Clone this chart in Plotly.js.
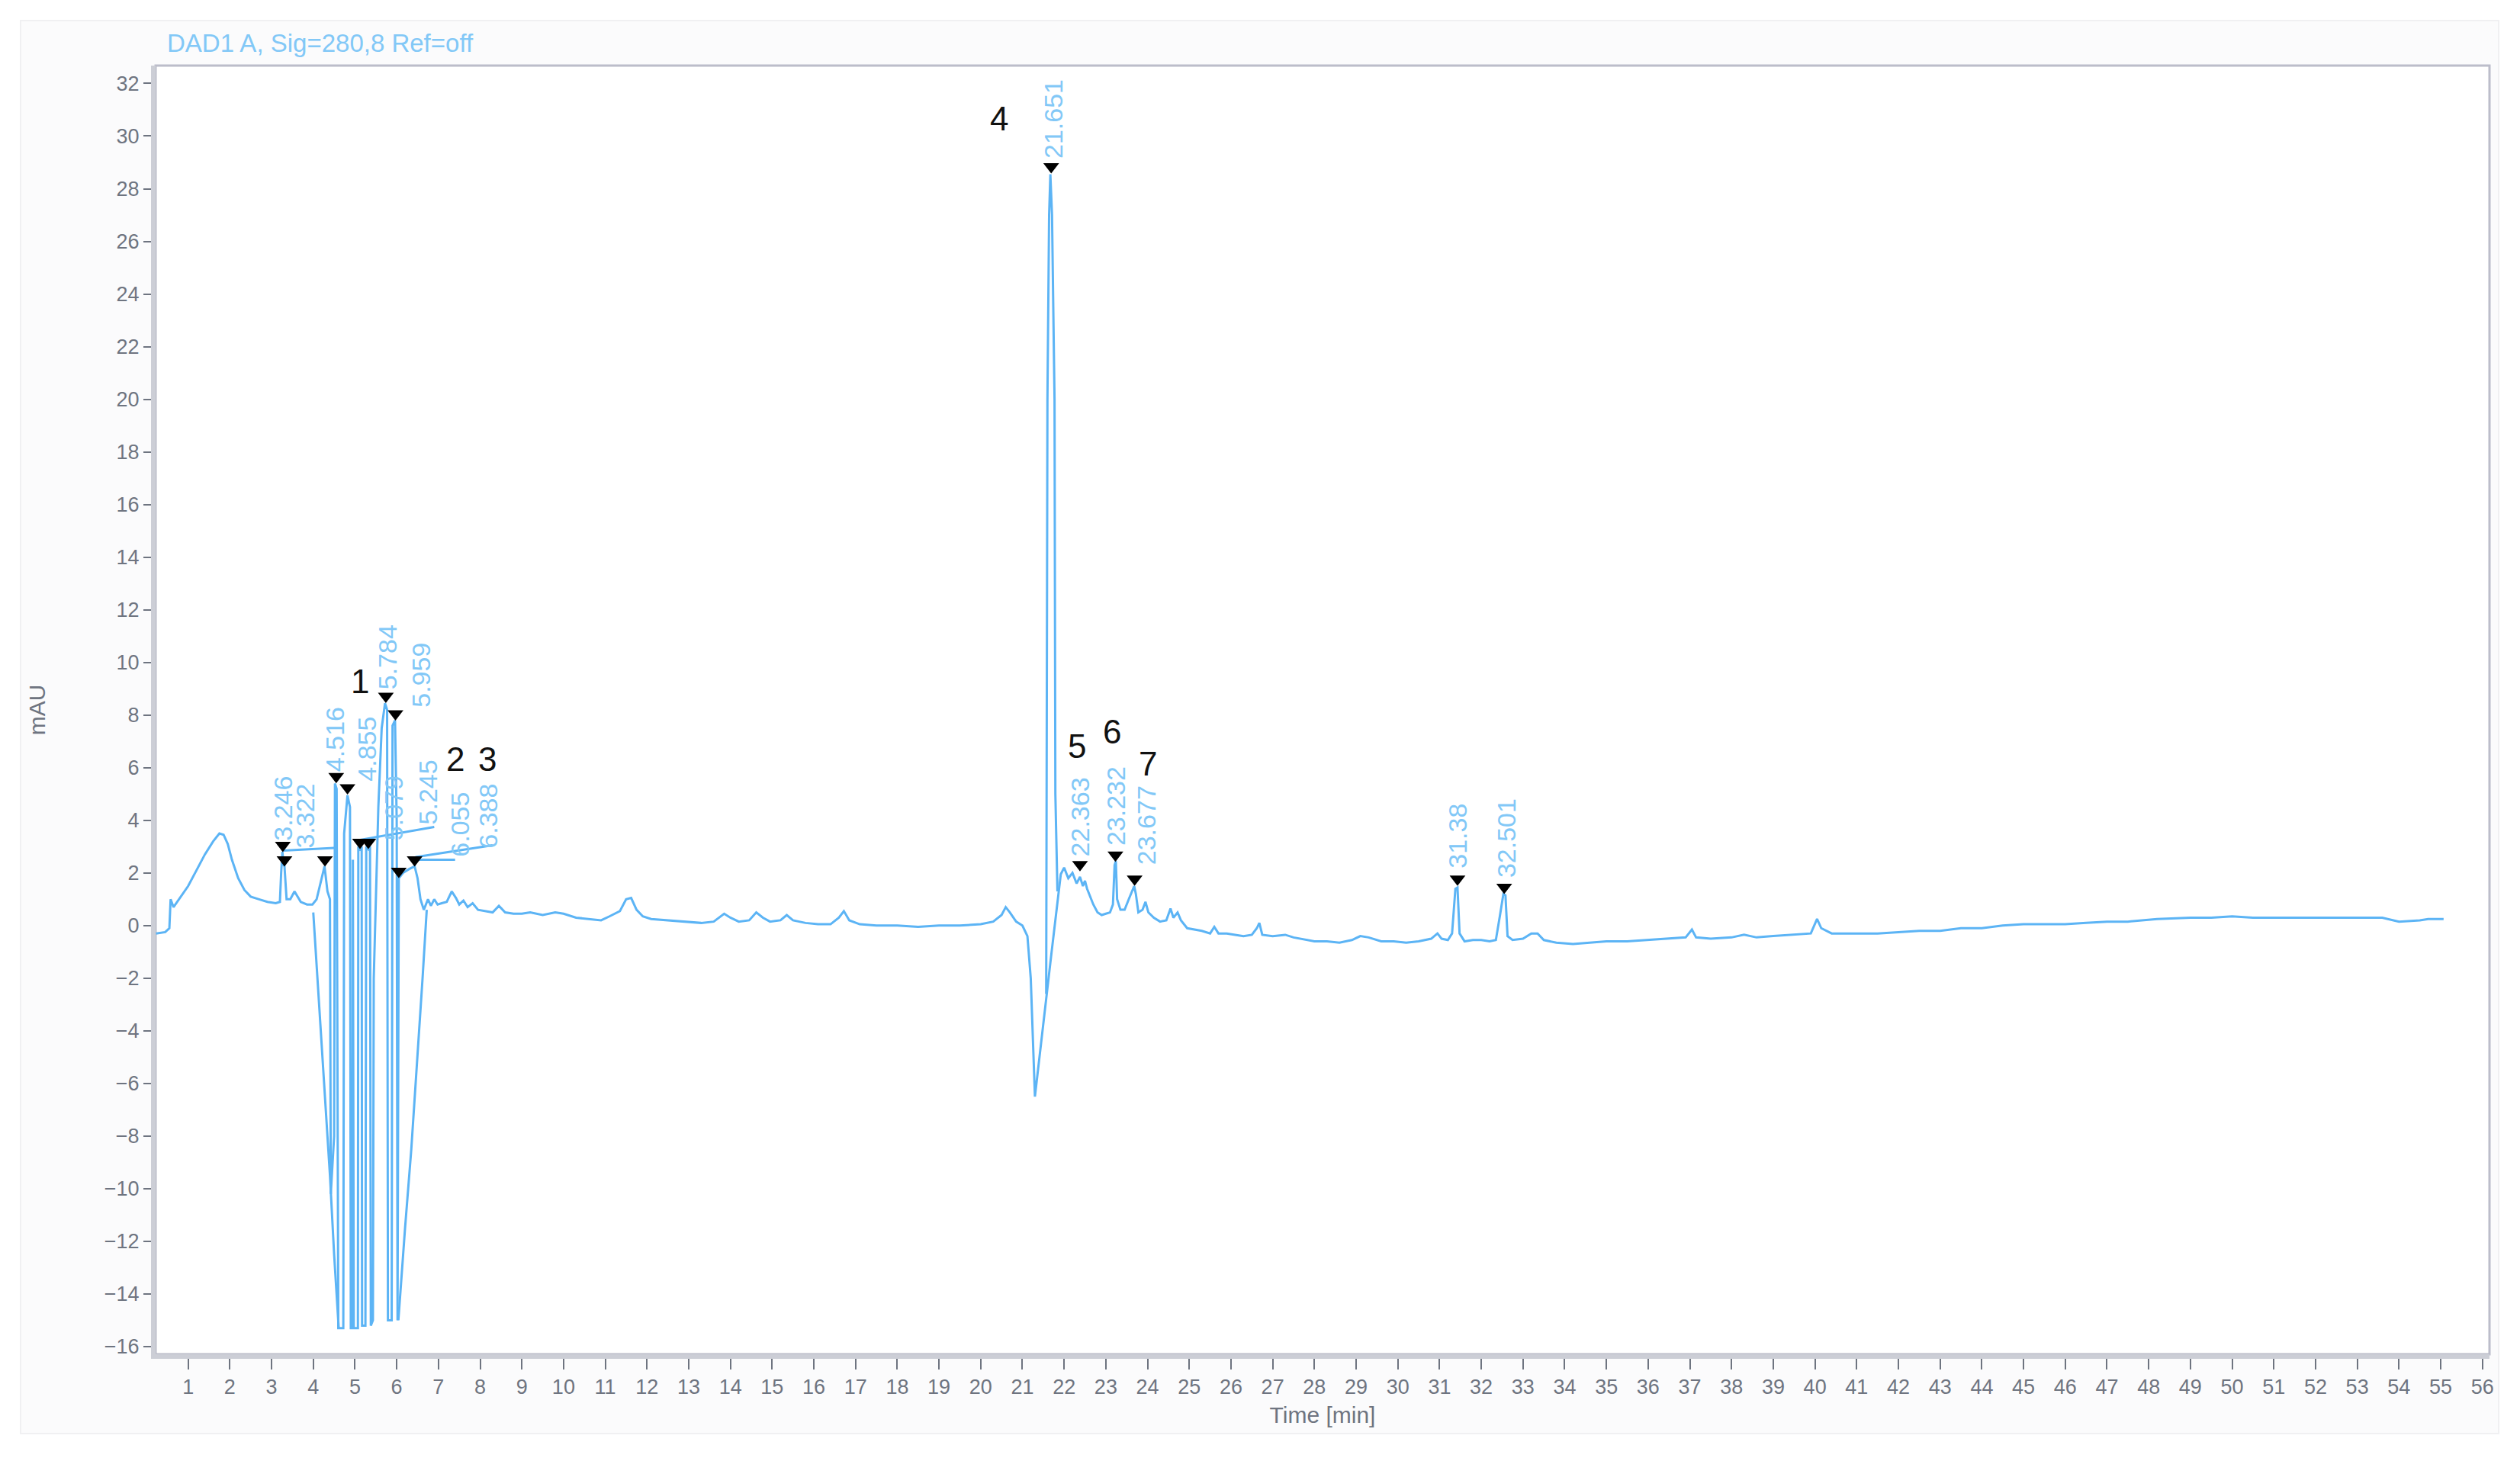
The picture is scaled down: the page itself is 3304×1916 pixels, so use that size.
<!DOCTYPE html>
<html>
<head>
<meta charset="utf-8">
<script src="https://cdn.plot.ly/plotly-3.0.1.min.js"></script>
<style>
  html, body { margin: 0; padding: 0; background: #ffffff; }
  #chart { width: 3304px; height: 1916px; }
</style>
</head>
<body>
<div id="chart"></div>
<script>
// chromatogram signal (time in min, signal in mAU), null = pen lifted
const time = [
  0.23, 0.45, 0.55, 0.58, 0.65, 0.8, 1.0, 1.2, 1.4, 1.6, 1.75, 1.85, 1.95, 2.05, 2.2, 2.35, 2.5, 2.7, 2.9, 3.1,
  3.2, 3.23, 3.26, 3.29, 3.31, 3.36, 3.45, 3.55, 3.62, 3.7, 3.85, 3.98, 4.08, 4.18, 4.27, 4.34, 4.40,
  4.42, 4.50, 4.52, 4.56, 4.60, 4.62, 4.72, 4.74, 4.82, 4.88, 4.90, 4.94, 4.95, 4.97, 5.07, 5.08, 5.12, 5.16,
  5.17, 5.25, 5.27, 5.32, 5.36, 5.38, 5.43, 5.45, 5.5, 5.56, 5.64, 5.72, 5.77, 5.79, 5.88, 5.90, 5.96, 6.0,
  6.02, 6.05, 6.15, 6.3, 6.43, 6.5, 6.57, 6.65, 6.75, 6.82, 6.9, 6.98, 7.08, 7.2, 7.32, 7.42, 7.5, 7.6, 7.7,
  7.82, 7.95, 8.1, 8.3, 8.45, 8.6, 8.8, 9.0, 9.2, 9.5, 9.8, 10.0, 10.3, 10.6, 10.9, 11.1, 11.35, 11.5, 11.62,
  11.75, 11.9, 12.1, 12.5, 12.9, 13.3, 13.6, 13.85, 14.0, 14.2, 14.45, 14.62, 14.78, 14.95, 15.2, 15.35, 15.5,
  15.8, 16.1, 16.4, 16.6, 16.72, 16.85, 17.1, 17.5, 18.0, 18.5, 19.0, 19.5, 20.0, 20.3, 20.5, 20.6, 20.7,
  20.85, 21.0, 21.12, 21.2, 21.3, 21.5, 21.7, 21.92, 22.0, 22.1, 22.2, 22.3, 22.38, 22.45, 22.5, 22.55, 22.62,
  22.7, 22.8, 22.9, 23.0, 23.1, 23.17, 23.21, 23.24, 23.27, 23.35, 23.45, 23.55, 23.62, 23.68, 23.72, 23.78,
  23.88, 23.95, 24.02, 24.15, 24.3, 24.45, 24.55, 24.62, 24.72, 24.8, 24.95, 25.1, 25.3, 25.5, 25.6, 25.7,
  25.9, 26.1, 26.3, 26.5, 26.62, 26.68, 26.75, 27.0, 27.3, 27.5, 27.8, 28.0, 28.3, 28.6, 28.9, 29.1, 29.3,
  29.6, 29.9, 30.2, 30.5, 30.8, 30.95, 31.05, 31.2, 31.3, 31.38, 31.43, 31.48, 31.6, 31.8, 32.0, 32.2, 32.35,
  32.45, 32.53, 32.58, 32.63, 32.75, 33.0, 33.2, 33.35, 33.5, 33.8, 34.2, 34.6, 35.0, 35.5, 36.0, 36.5, 36.9,
  37.05, 37.15, 37.5, 38.0, 38.3, 38.6, 39.0, 39.5, 39.9, 40.05, 40.15, 40.4, 41.0, 41.5, 42.0, 42.5, 43.0,
  43.5, 44.0, 44.5, 45.0, 45.5, 46.0, 46.5, 47.0, 47.5, 48.2, 49.0, 49.5, 50.0, 50.5, 51.0, 52.0, 53.0, 53.6,
  54.0, 54.5, 54.7, 55.07,
  null, 4.0, 4.1, 4.2, 4.3, 4.4, 4.5, 4.61,
  null, 6.04, 6.1, 6.2, 6.35, 6.5, 6.62, 6.72,
  null, 21.57, 21.6, 21.64, 21.67, 21.71, 21.77, 21.79, 21.84
];
const signal = [
  -0.3, -0.25, -0.1, 1.0, 0.7, 1.05, 1.5, 2.1, 2.7, 3.2, 3.5, 3.45, 3.1, 2.5, 1.8, 1.35, 1.1, 1.0, 0.9, 0.85,
  0.9, 2.0, 2.8, 2.3, 2.25, 1.0, 1.0, 1.3, 1.1, 0.9, 0.8, 0.8, 1.0, 1.7, 2.25, 1.3, 1.0,
  -10.2, -8.0, 5.4, 5.2, -15.3, -15.3, -15.3, 3.5, 4.95, 4.5, -15.3, -15.3, 2.5, -15.3, -15.3, 3.0, 2.9, 3.0,
  -15.2, -15.2, 3.0, 2.9, 3.0, -15.2, -15.0, -2.0, 1.0, 4.5, 7.5, 8.45, 8.2, -15.0, -15.0, 7.6, 7.8, 4.0,
  -15.0, 1.8, 2.0, 2.15, 2.25, 1.8, 1.0, 0.6, 1.0, 0.75, 1.0, 0.8, 0.85, 0.9, 1.3, 1.05, 0.8, 0.95, 0.7,
  0.85, 0.6, 0.55, 0.5, 0.75, 0.5, 0.45, 0.45, 0.5, 0.4, 0.5, 0.45, 0.3, 0.25, 0.2, 0.35, 0.55, 1.0, 1.05,
  0.6, 0.35, 0.25, 0.2, 0.15, 0.1, 0.15, 0.45, 0.3, 0.15, 0.2, 0.5, 0.3, 0.15, 0.2, 0.4, 0.2,
  0.1, 0.05, 0.05, 0.3, 0.55, 0.2, 0.05, 0.0, 0.0, -0.05, 0.0, 0.0, 0.05, 0.15, 0.4, 0.7, 0.5,
  0.15, 0.0, -0.4, -2.0, -6.5, -3.7, -1.0, 1.95, 2.2, 1.8, 2.0, 1.6, 1.85, 1.5, 1.7, 1.4, 1.1,
  0.8, 0.5, 0.4, 0.45, 0.5, 0.8, 2.3, 2.45, 1.0, 0.6, 0.6, 1.0, 1.3, 1.5, 1.2, 0.5,
  0.6, 0.9, 0.5, 0.3, 0.15, 0.2, 0.65, 0.3, 0.5, 0.2, -0.1, -0.15, -0.2, -0.3, -0.05, -0.3,
  -0.3, -0.35, -0.4, -0.35, -0.1, 0.1, -0.35, -0.4, -0.35, -0.45, -0.55, -0.6, -0.6, -0.65, -0.55, -0.4, -0.45,
  -0.6, -0.6, -0.65, -0.6, -0.5, -0.3, -0.5, -0.55, -0.3, 1.4, 1.45, -0.3, -0.6, -0.55, -0.55, -0.6, -0.55,
  0.4, 1.2, 1.15, -0.4, -0.55, -0.5, -0.3, -0.3, -0.55, -0.65, -0.7, -0.65, -0.6, -0.6, -0.55, -0.5, -0.45,
  -0.15, -0.45, -0.5, -0.45, -0.35, -0.45, -0.4, -0.35, -0.3, 0.25, -0.1, -0.3, -0.3, -0.3, -0.25, -0.2, -0.2,
  -0.1, -0.1, 0.0, 0.05, 0.05, 0.05, 0.1, 0.15, 0.15, 0.25, 0.3, 0.3, 0.35, 0.3, 0.3, 0.3, 0.3, 0.3,
  0.15, 0.2, 0.25, 0.25,
  null, 0.5, -2.0, -4.5, -7.0, -9.5, -12.5, -15.3,
  null, -15.0, -13.6, -11.5, -8.5, -5.0, -2.0, 0.6,
  null, -2.6, 20.0, 27.0, 28.55, 27.0, 20.0, 5.0, 1.3
];

// integration baselines drawn by the software
const baseTime = [3.28, 4.5, null, 5.1, 6.9, null, 6.43, 7.4, null, 6.45, 8.3];
const baseSignal = [2.85, 2.95, null, 3.25, 3.75, null, 2.5, 2.5, null, 2.6, 3.05];

// peak markers (black triangles)
const markerTime = [3.27, 3.31, 4.28, 4.55, 4.82, 5.12, 5.32, 5.74, 5.97, 6.05, 6.43, 21.69, 22.38, 23.23, 23.69, 31.43, 32.55];
const markerSignal = [3.05, 2.5, 2.5, 5.67, 5.24, 3.17, 3.17, 8.72, 8.05, 2.07, 2.5, 28.84, 2.32, 2.68, 1.77, 1.77, 1.46];

// retention time labels and where they sit
const rtLabels = ['3.246', '3.322', '4.516', '4.855', '5.079', '5.784', '5.959', '5.245', '6.055', '6.388',
  '21.651', '22.363', '23.232', '23.677', '31.38', '32.501'];
const rtLabelTime = [3.27, 3.81, 4.51, 5.28, 5.93, 5.78, 6.59, 6.74, 7.51, 8.2, 21.73, 22.38, 23.23, 23.96, 31.43, 32.59];
const rtLabelSignal = [3.17, 2.87, 5.79, 5.43, 3.17, 8.9, 8.23, 3.78, 2.56, 2.87, 29.1, 2.56, 2.99, 2.26, 2.13, 1.77];

// compound numbers
const compoundNames = ['1', '2', '3', '4', '5', '6', '7'];
const compoundTime = [5.12, 7.4, 8.17, 20.45, 22.3, 23.15, 24.0];
const compoundSignal = [9.27, 6.34, 6.34, 30.67, 6.83, 7.38, 6.16];

// tick values
const yTicks = [-16, -14, -12, -10, -8, -6, -4, -2, 0, 2, 4, 6, 8, 10, 12, 14, 16, 18, 20, 22, 24, 26, 28, 30, 32];


//---------------------------------------------------------------------------------------------------------------//


const lineBlue = 'rgb(92,180,245)';
const labelBlue = 'rgb(130,200,247)';
const axisGrey = 'rgb(204,206,214)';
const frameGrey = 'rgb(188,189,202)';
const tickGrey = 'rgb(110,116,128)';

const traces = [
  {
    x: time, y: signal, type: 'scatter', mode: 'lines',
    line: {color: lineBlue, width: 3}, connectgaps: false, hoverinfo: 'none'
  },
  {
    x: baseTime, y: baseSignal, type: 'scatter', mode: 'lines',
    line: {color: lineBlue, width: 3}, connectgaps: false, hoverinfo: 'none'
  },
  {
    x: markerTime, y: markerSignal, type: 'scatter', mode: 'markers',
    marker: {symbol: 'triangle-down', size: 18, color: '#000000'}, hoverinfo: 'none'
  }
];

// rotated retention time labels
const annotations = rtLabels.map((label, i) => ({
  x: rtLabelTime[i], y: rtLabelSignal[i], xref: 'x', yref: 'y',
  text: label, showarrow: false, textangle: -90,
  xanchor: 'center', yanchor: 'bottom',
  font: {family: 'Liberation Sans, Arial, sans-serif', size: 34, color: labelBlue}
}));

// black compound numbers
compoundNames.forEach((name, i) => {
  annotations.push({
    x: compoundTime[i], y: compoundSignal[i], xref: 'x', yref: 'y',
    text: name, showarrow: false, xanchor: 'center', yanchor: 'middle',
    font: {family: 'Liberation Sans, Arial, sans-serif', size: 44, color: '#111111'}
  });
});

// plot area in pixels
const plotLeft = 204, plotRight = 3264, plotTop = 86, plotBottom = 1776;
const toPaperX = (px) => (px - plotLeft) / (plotRight - plotLeft);
const toPaperY = (py) => (plotBottom - py) / (plotBottom - plotTop);

// signal name in the top left corner
annotations.push({
  x: toPaperX(217), y: toPaperY(57), xref: 'paper', yref: 'paper', text: 'DAD1 A, Sig=280,8 Ref=off',
  showarrow: false, xanchor: 'left', yanchor: 'middle',
  font: {family: 'Liberation Sans, Arial, sans-serif', size: 33, color: labelBlue}
});

const layout = {
  width: 3304,
  height: 1916,
  margin: {l: plotLeft, r: 3304 - plotRight, t: plotTop, b: 1916 - plotBottom},
  paper_bgcolor: '#ffffff',
  plot_bgcolor: '#ffffff',
  showlegend: false,
  font: {family: 'Liberation Sans, Arial, sans-serif', color: tickGrey},
  xaxis: {
    range: [0.22, 56.17],
    tick0: 1, dtick: 1,
    ticks: 'outside', ticklen: 14, tickwidth: 2, tickcolor: tickGrey,
    showline: true, linecolor: axisGrey, linewidth: 6,
    showgrid: false, zeroline: false,
    tickfont: {size: 27, color: tickGrey},
    title: {text: 'Time [min]', font: {size: 30, color: tickGrey}, standoff: 14}
  },
  yaxis: {
    range: [-16.29, 32.68],
    tickvals: yTicks,
    ticks: 'outside', ticklen: 10, tickwidth: 2, tickcolor: tickGrey,
    showline: true, linecolor: axisGrey, linewidth: 6,
    showgrid: false, zeroline: false,
    tickfont: {size: 27, color: tickGrey},
    title: {text: 'mAU', font: {size: 30, color: tickGrey}, standoff: 70}
  },
  shapes: [
    // faint outer panel
    {
      type: 'rect', xref: 'paper', yref: 'paper', layer: 'below',
      x0: toPaperX(27), x1: toPaperX(3276), y0: toPaperY(1880), y1: toPaperY(27),
      fillcolor: '#fbfbfc', line: {color: '#f0f0f2', width: 2}
    },
    // white plot area with a thin frame on top and right
    {
      type: 'rect', xref: 'paper', yref: 'paper', layer: 'below',
      x0: 0, x1: 1, y0: 0, y1: 1,
      fillcolor: '#ffffff', line: {color: frameGrey, width: 3}
    }
  ],
  annotations: annotations
};

Plotly.newPlot('chart', traces, layout, {staticPlot: true, displayModeBar: false});
</script>
</body>
</html>
